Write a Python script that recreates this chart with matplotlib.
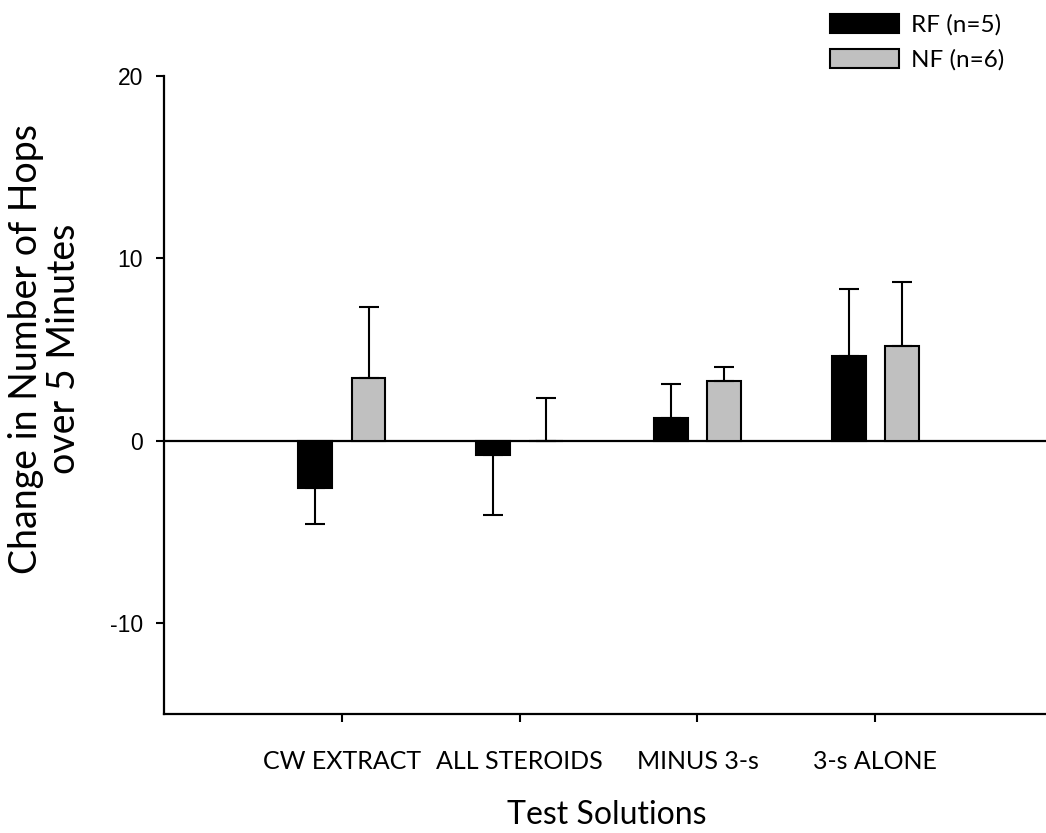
import matplotlib.pyplot as plt
import numpy as np

# Dados
categorias = ['CW EXTRACT', 'ALL STEROIDS', 'MINUS 3-s', '3-s ALONE']
rf_media = [-2.58, -0.77, 1.26, 4.62]
rf_erro = [1.98, 3.30, 1.82, 3.68]
nf_media = [3.41, 0.0, 3.24, 5.16]
nf_erro = [3.90, 2.31, 0.77, 3.52]
rotulos_legenda = ['RF (n=5)', 'NF (n=6)']

plt.rcParams['axes.unicode_minus'] = False


def erro_unilateral(medias, erros):
    # barra de erro só no sentido para fora do zero
    baixo = [e if m < 0 else 0 for m, e in zip(medias, erros)]
    cima = [0 if m < 0 else e for m, e in zip(medias, erros)]
    return [baixo, cima]


fig = plt.figure(figsize=(10.46, 8.33), dpi=100)
ax = fig.add_axes([0.1568, 0.1429, 0.85, 0.766])

x = np.arange(1, len(categorias) + 1)
largura = 0.19
desloc = 0.15

ax.axhline(0, color='black', linewidth=1.6, zorder=1)

ax.bar(x - desloc, rf_media, largura, color='black', edgecolor='black',
       linewidth=1.5, label=rotulos_legenda[0], zorder=2)
ax.bar(x + desloc, nf_media, largura, color='#c0c0c0', edgecolor='black',
       linewidth=1.5, label=rotulos_legenda[1], zorder=2)

ax.errorbar(x - desloc, rf_media, yerr=erro_unilateral(rf_media, rf_erro),
            fmt='none', ecolor='black', elinewidth=1.5, capsize=7.2,
            capthick=1.5, zorder=3)
ax.errorbar(x + desloc, nf_media, yerr=erro_unilateral(nf_media, nf_erro),
            fmt='none', ecolor='black', elinewidth=1.5, capsize=7.2,
            capthick=1.5, zorder=3)

# Eixos
ax.set_xlim(0, 5)
ax.set_ylim(-15, 20)
ax.set_yticks([-10, 0, 10, 20])
ax.set_xticks(x)
ax.set_xticklabels(categorias, fontfamily='Lato', fontsize=18)
for t in ax.get_yticklabels():
    t.set_fontfamily('Liberation Sans')
    t.set_fontsize(16.5)
ax.tick_params(axis='both', direction='out', length=6, width=1.5,
               color='black')
ax.tick_params(axis='x', pad=20)
ax.tick_params(axis='y', pad=9)

ax.spines['top'].set_visible(False)
ax.spines['right'].set_visible(False)
ax.spines['left'].set_linewidth(1.6)
ax.spines['bottom'].set_linewidth(1.6)

# Rótulos
fig.text(607 / 1046, 1 - 815 / 833, 'Test Solutions', fontfamily='Lato',
         fontsize=23, ha='center', va='center')
fig.text(45 / 1046, 1 - 349 / 833,
         'Change in Number of Hops\nover 5 Minutes', fontfamily='Lato',
         fontsize=27, rotation=90, ha='center', va='center',
         multialignment='center', linespacing=1.1)

fig.legend(loc='upper left', bbox_to_anchor=(820 / 1046, 1 - 4 / 833),
           frameon=False, prop={'family': 'Lato', 'size': 17.5},
           handlelength=2.84, handleheight=0.82, handletextpad=0.5,
           labelspacing=0.55, borderaxespad=0)

fig.savefig('out.png', dpi=100)
